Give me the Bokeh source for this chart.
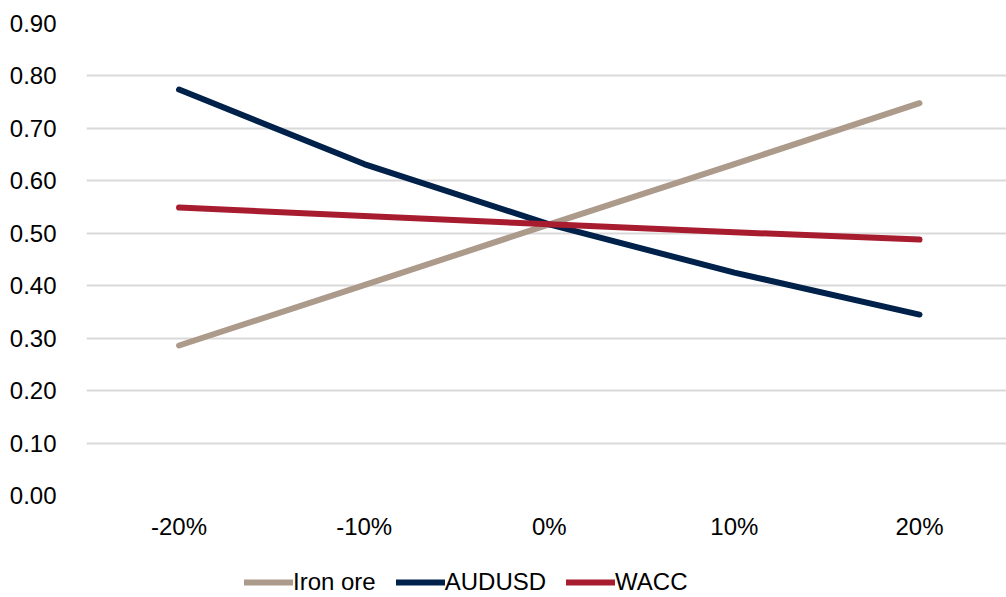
from bokeh.plotting import figure
from bokeh.models import Range1d, FixedTicker, Legend, LegendItem, ColumnDataSource
from bokeh.layouts import column
from bokeh.embed import file_html
from bokeh.resources import INLINE

categories = ["-20%", "-10%", "0%", "10%", "20%"]
iron_ore = [0.286, 0.401, 0.517, 0.632, 0.748]
audusd = [0.774, 0.632, 0.517, 0.425, 0.345]
wacc = [0.549, 0.533, 0.517, 0.502, 0.488]
y_ticks = [0.0, 0.1, 0.2, 0.3, 0.4, 0.5, 0.6, 0.7, 0.8, 0.9]
series_names = ["Iron ore", "AUDUSD", "WACC"]
series_colors = ["#AC9A8B", "#00224A", "#A81C30"]

xs = list(range(len(categories)))

p = figure(width=1006, height=560, output_backend="svg", toolbar_location=None,
           x_range=Range1d(-0.5, 4.47), y_range=Range1d(0, 0.9),
           min_border_left=86, min_border_right=0, min_border_top=23, min_border_bottom=65)
p.outline_line_color = None
p.background_fill_color = "white"
p.border_fill_color = "white"

p.xgrid.grid_line_color = None
p.ygrid.grid_line_color = "#D9D9D9"
p.ygrid.grid_line_width = 2
p.yaxis.ticker = FixedTicker(ticks=y_ticks)
p.yaxis.major_label_overrides = {t: f"{t:.2f}" for t in y_ticks}
p.xaxis.ticker = FixedTicker(ticks=xs)
p.xaxis.major_label_overrides = {i: c for i, c in enumerate(categories)}

for ax in (p.xaxis[0], p.yaxis[0]):
    ax.axis_line_color = None
    ax.major_tick_line_color = None
    ax.minor_tick_line_color = None
    ax.major_label_text_font = "Liberation Sans"
    ax.major_label_text_font_size = "24px"
    ax.major_label_text_color = "#000000"
p.xaxis.major_label_standoff = 11
p.yaxis.major_label_standoff = 24

all_vals = [iron_ore, audusd, wacc]
for name, vals, col in zip(series_names, all_vals, series_colors):
    src = ColumnDataSource(dict(x=xs, y=vals))
    p.line("x", "y", source=src, line_color=col, line_width=6, line_cap="round", line_join="round")

# legend strip
lf = figure(width=1006, height=37, output_backend="svg", toolbar_location=None,
            x_range=Range1d(0, 1), y_range=Range1d(0, 1),
            x_axis_type=None, y_axis_type=None,
            min_border_left=0, min_border_right=0, min_border_top=0, min_border_bottom=0)
lf.outline_line_color = None
lf.xgrid.grid_line_color = None
lf.ygrid.grid_line_color = None
items = []
for name, col in zip(series_names, series_colors):
    r = lf.line(x=[-10, -9], y=[-10, -10], line_color=col, line_width=6, line_cap="round")
    items.append(LegendItem(label=name, renderers=[r]))
legend = Legend(items=items, orientation="horizontal", location=(158, 1),
                label_text_font="Liberation Sans", label_text_font_size="24px",
                label_text_color="#000000",
                glyph_width=49, glyph_height=24, label_standoff=0, spacing=20,
                border_line_color=None, background_fill_alpha=0, padding=0, margin=0)
lf.add_layout(legend)

layout = column(p, lf, spacing=0)
open("out.html", "w").write(file_html(layout, INLINE))
